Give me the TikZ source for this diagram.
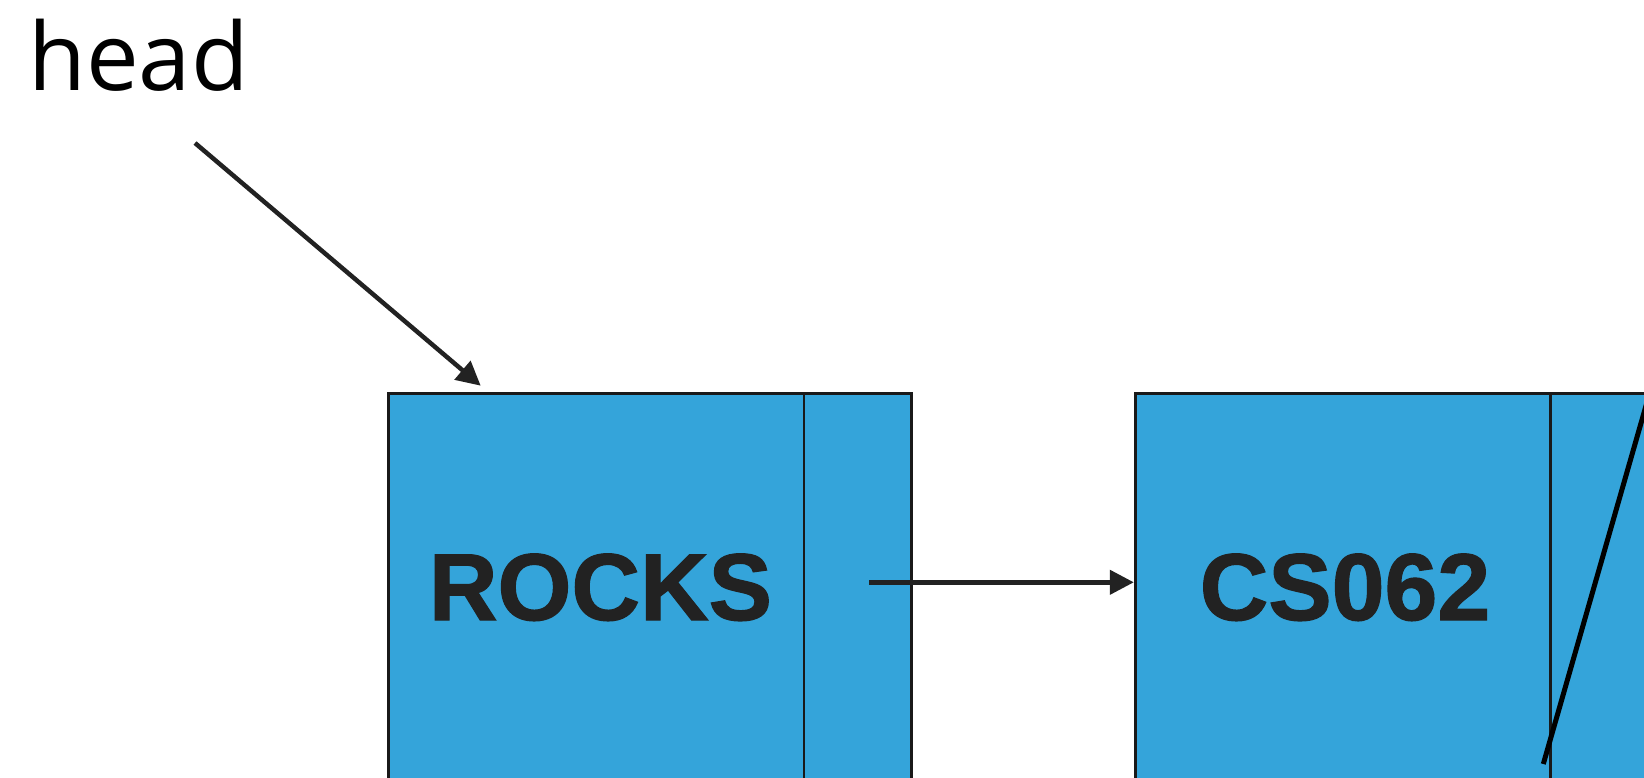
\documentclass[tikz,border=0pt]{standalone}
\usepackage{fontspec}
\usetikzlibrary{arrows.meta}
\newfontfamily\headfont{Open Sans}
\newfontfamily\boxfont{Liberation Sans}[BoldFeatures={FakeBold=1.3}]
\definecolor{boxblue}{RGB}{52,164,218}
\definecolor{ink}{RGB}{34,34,34}
\tikzset{
  cell/.style={draw=black!90, line width=2.8pt, fill=boxblue, rectangle, inner sep=0pt, minimum height=386.5pt},
  datacell/.style={cell, minimum width=415.4pt},
  nextcell/.style={cell, minimum width=107.7pt},
  val/.style={font=\boxfont\bfseries\fontsize{95}{110}\selectfont, text=ink, inner sep=0pt, anchor=base},
  link/.style={draw=ink, line width=4.5pt, -{Triangle[length=24pt,width=24pt]}},
  nullslash/.style={draw=black, line width=5pt}
}
\begin{document}
\begin{tikzpicture}[x=1pt,y=-1pt]
\useasboundingbox (0,0) rectangle (1644,777);
\clip (0,0) rectangle (1644,777);
% head label
\node[font=\headfont\fontsize{94}{110}\selectfont, inner sep=0pt, anchor=base west] (head) at (28.2,90) {head};
% first list node
\node[datacell] (d1) at (596.3,586.75) {};
\node[nextcell] (n1) at (857.85,586.75) {};
\node[val] (t1) at (600.5,620) {ROCKS};
% second list node
\node[datacell] (d2) at (1342.9,586.75) {};
\node[nextcell] (n2) at (1604.45,586.75) {};
\node[val] (t2) at (1345,620) {CS062};
% connectors
\coordinate (hs) at (195,143);
\coordinate (ht) at (480.7,385.7);
\draw[link] (hs) -- (ht);
\coordinate (p1) at (869.3,582.3);
\draw[link] (p1) -- (d2.west |- p1);
\coordinate (s1) at (1543.3,764);
\coordinate (s2) at (1649.5,393.5);
\draw[nullslash] (s1) -- (s2);
\end{tikzpicture}
\end{document}
